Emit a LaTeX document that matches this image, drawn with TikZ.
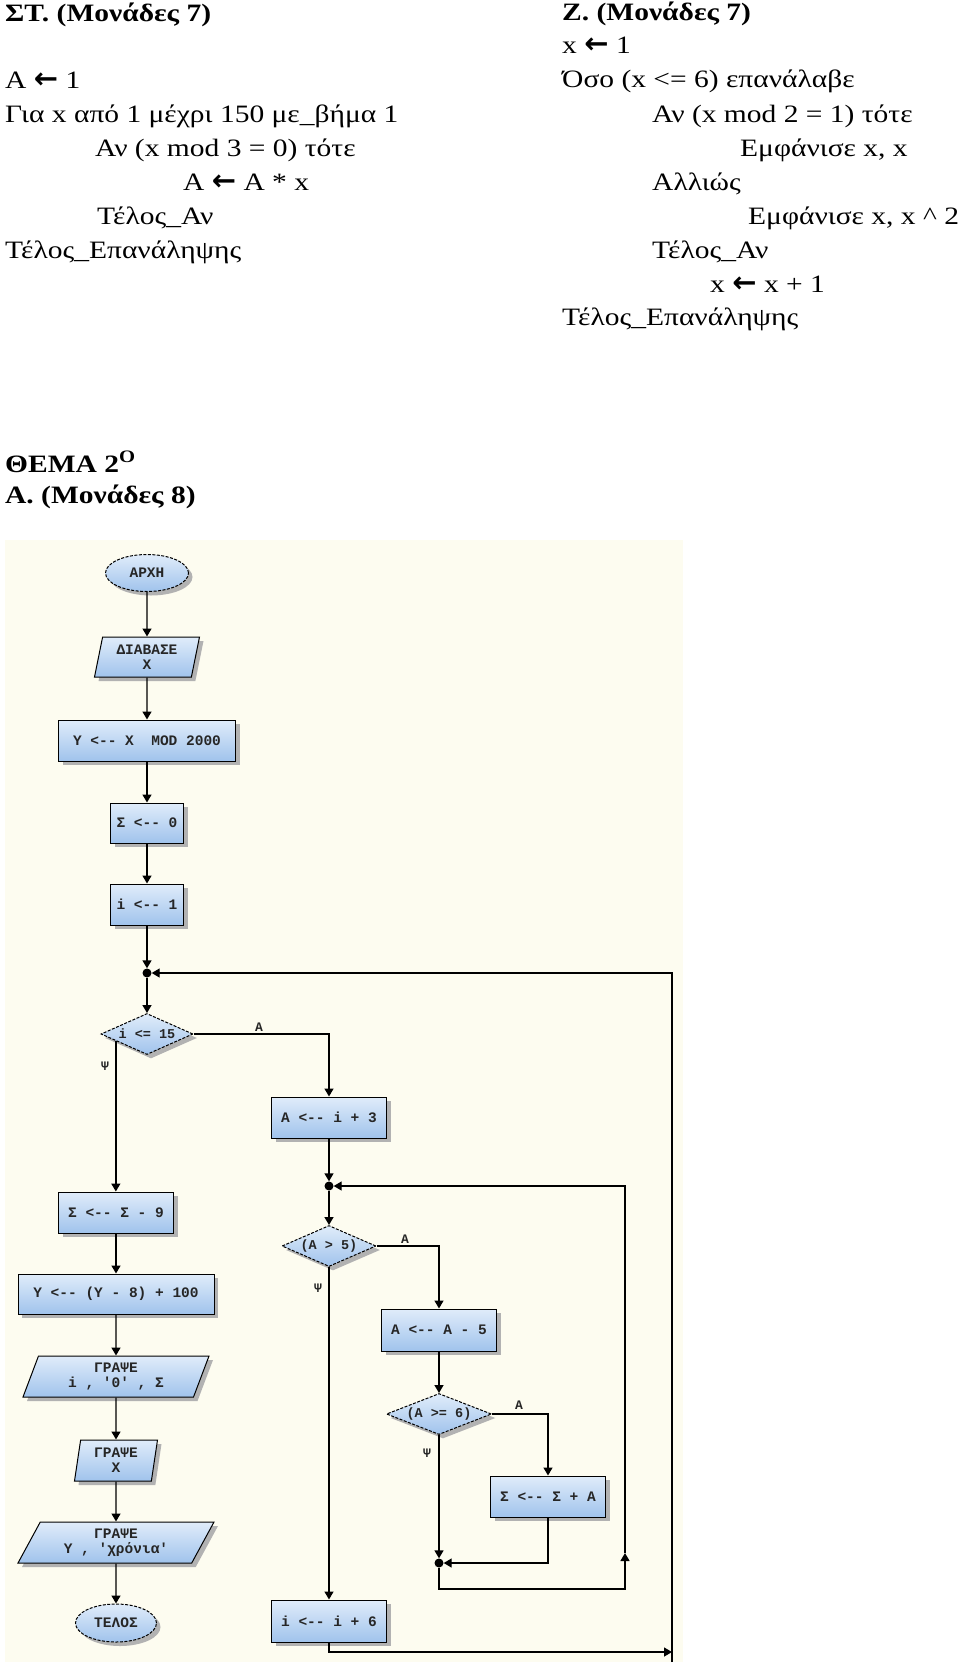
\documentclass[tikz,border=0pt]{standalone}
\usepackage{fontspec}
\setmainfont{Liberation Serif}[FakeStretch=1.18]
\newfontfamily\fcfont{Liberation Mono}[Ligatures=TeXOff]
\newfontfamily\arrfont{DejaVu Sans}
\usetikzlibrary{shapes.geometric,shadows,arrows.meta,calc}

\definecolor{bgc}{RGB}{253,252,240}
\definecolor{btop}{RGB}{224,236,250}
\definecolor{bbot}{RGB}{160,195,236}
\newcommand{\myarr}{{\arrfont\bfseries\fontsize{29}{30}\selectfont ←}}

\tikzset{
  code/.style={anchor=base west, inner sep=0pt, font=\fontsize{25}{30}\selectfont},
  hdr/.style={anchor=base west, inner sep=0pt, font=\fontsize{25}{30}\selectfont\bfseries},
  fc/.style={draw=black, line width=1pt, top color=btop, bottom color=bbot,
    drop shadow={shadow xshift=4pt, shadow yshift=-4pt, fill=black!30, opacity=1},
    font=\fcfont\bfseries\fontsize{14.5}{15}\selectfont, text=black!85,
    inner sep=1pt, align=center},
  procbox/.style={fc, rectangle},
  io/.style={fc, trapezium, trapezium stretches body},
  term/.style={fc, ellipse, dash pattern=on 3pt off 1.5pt},
  cond/.style={fc, diamond, aspect=2.4, dash pattern=on 3pt off 1.5pt, inner sep=0pt,
    font=\fcfont\bfseries\fontsize{13.5}{14}\selectfont},
  jn/.style={circle, fill=black, inner sep=0pt, minimum size=9},
  flow/.style={line width=1.4pt, -{Triangle[width=9pt,length=8pt]}},
  lbl/.style={font=\fcfont\bfseries\fontsize{13}{13}\selectfont, text=black!85, inner sep=0pt},
}

\begin{document}
\begin{tikzpicture}[x=1pt,y=-1pt]
\useasboundingbox (0,0) rectangle (960,1668);
\fill[white] (0,0) rectangle (960,1668);

% ---------- text part ----------
\node[hdr] (hST) at (5,21) {ΣΤ. (Μονάδες 7)};
\node[code] (l1) at (5,88) {Α \myarr{} 1};
\node[code] (l2) at (5,122) {Για x από 1 μέχρι 150 με\_βήμα 1};
\node[code] (l3) at (95,156) {Αν (x mod 3 = 0) τότε};
\node[code] (l4) at (183,190) {Α \myarr{} Α * x};
\node[code] (l5) at (97,224) {Τέλος\_Αν};
\node[code] (l6) at (5,258) {Τέλος\_Επανάληψης};

\node[hdr] (hZ) at (562,20) {Ζ. (Μονάδες 7)};
\node[code] (r1) at (562,53) {x \myarr{} 1};
\node[code] (r2) at (562,87) {Όσο (x <= 6) επανάλαβε};
\node[code] (r3) at (652,122) {Αν (x mod 2 = 1) τότε};
\node[code] (r4) at (740,156) {Εμφάνισε x, x};
\node[code] (r5) at (652,190) {Αλλιώς};
\node[code] (r6) at (748,224) {Εμφάνισε x, x \textasciicircum{} 2};
\node[code] (r7) at (652,258) {Τέλος\_Αν};
\node[code] (r8) at (710,292) {x \myarr{} x + 1};
\node[code] (r9) at (562,325) {Τέλος\_Επανάληψης};

\node[hdr] (hT) at (5,472) {ΘΕΜΑ 2\textsuperscript{Ο}};
\node[hdr] (hA) at (5,503) {Α. (Μονάδες 8)};

% ---------- flowchart ----------
\fill[bgc] (5,540) rectangle (683,1662);

\node[term, minimum width=83, minimum height=37] (start) at (147,573) {ΑΡΧΗ};
\node[io, trapezium left angle=73, trapezium right angle=107, minimum width=105, minimum height=40] (read) at (147,657) {ΔΙΑΒΑΣΕ\\Χ};
\node[procbox, minimum width=177, minimum height=41] (b1) at (147,740.5) {Υ <-- Χ~~MOD 2000};
\node[procbox, minimum width=73, minimum height=40] (b2) at (147,823) {Σ <-- 0};
\node[procbox, minimum width=73, minimum height=41] (b3) at (147,904.5) {i <-- 1};
\node[jn] (j1) at (147,973) {};
\node[cond, minimum width=92, minimum height=41] (d1) at (147,1034) {i <= 15};

\node[procbox, minimum width=115, minimum height=41] (b4) at (116,1212.5) {Σ <-- Σ - 9};
\node[procbox, minimum width=196, minimum height=40] (b5) at (116,1294) {Υ <-- (Υ - 8) + 100};
\node[io, trapezium left angle=62, trapezium right angle=118, minimum width=186, minimum height=41] (p1) at (116,1376.5) {ΓΡΑΨΕ\\i , '0' , Σ};
\node[io, trapezium left angle=77, trapezium right angle=103, minimum width=83, minimum height=41] (p2) at (116,1460.5) {ΓΡΑΨΕ\\Χ};
\node[io, trapezium left angle=53, trapezium right angle=127, minimum width=196, minimum height=41] (p3) at (116,1542.5) {ΓΡΑΨΕ\\Υ , 'χρόνια'};
\node[term, minimum width=81, minimum height=38] (end) at (116,1623) {ΤΕΛΟΣ};

\node[procbox, minimum width=115, minimum height=41] (b6) at (329,1117.5) {Α <-- i + 3};
\node[jn] (j2) at (329,1186) {};
\node[cond, minimum width=94, minimum height=41] (d2) at (329,1246) {(Α > 5)};
\node[procbox, minimum width=115, minimum height=42] (b7) at (439,1330) {Α <-- Α - 5};
\node[cond, minimum width=105, minimum height=41] (d3) at (439,1414) {(Α >= 6)};
\node[procbox, minimum width=115, minimum height=41] (b8) at (548,1496.5) {Σ <-- Σ + Α};
\node[jn] (j3) at (439,1563) {};
\node[procbox, minimum width=115, minimum height=42] (b9) at (329,1621) {i <-- i + 6};

% labels
\node[lbl] (lA1) at (259,1027) {Α};
\node[lbl] (lP1) at (105,1066) {Ψ};
\node[lbl] (lA2) at (405,1239) {Α};
\node[lbl] (lP2) at (318,1288) {Ψ};
\node[lbl] (lA3) at (519,1405) {Α};
\node[lbl] (lP3) at (427,1453) {Ψ};

% connectors
\draw[flow] (start.south) -- (read.north);
\draw[flow] (read.south) -- (b1.north);
\draw[flow] (b1.south) -- (b2.north);
\draw[flow] (b2.south) -- (b3.north);
\draw[flow] (b3.south) -- (j1.north);
\draw[flow] (j1.south) -- (d1.north);
\draw[flow] (d1.east) -| (b6.north);
\coordinate (d1L) at ($(d1.west)!0.33!(d1.south)$);
\draw[flow] (d1L) -- (d1L |- b4.north);
\draw[flow] (b4.south) -- (b5.north);
\draw[flow] (b5.south) -- (p1.north);
\draw[flow] (p1.south) -- (p2.north);
\draw[flow] (p2.south) -- (p3.north);
\draw[flow] (p3.south) -- (end.north);

\draw[flow] (b6.south) -- (j2.north);
\draw[flow] (j2.south) -- (d2.north);
\draw[flow] (d2.east) -| (b7.north);
\draw[flow] (d2.south) -- (b9.north);
\draw[flow] (b7.south) -- (d3.north);
\draw[flow] (d3.east) -| (b8.north);
\draw[flow] (d3.south) -- (j3.north);
\draw[flow] (b8.south) |- (j3.east);

\coordinate (c1) at (439,1589);
\coordinate (c2) at (625,1589);
\coordinate (c3) at (625,1553);
\draw[flow] (j3.south) -- (c1) -- (c2) -- (c3);
\draw[flow] (c3) |- (j2.east);

\coordinate (c4) at (672,1652);
\coordinate (c5) at (672,1662);
\draw[flow] (b9.south) |- (c4);
\draw[flow] (c5) |- (j1.east);
\end{tikzpicture}
\end{document}
